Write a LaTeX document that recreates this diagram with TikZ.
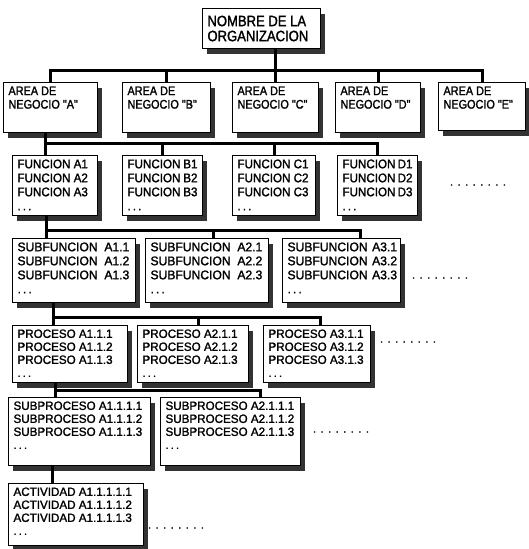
\documentclass[tikz,border=0pt]{standalone}
\usepackage{fontspec}
\setmainfont{Liberation Sans}
\newfontfamily\fnarrow[FakeStretch=0.87,FakeBold=1.6]{Liberation Sans}
\newfontfamily\fmid[FakeStretch=0.93,FakeBold=1.6]{Liberation Sans}
\newfontfamily\fwide[FakeStretch=0.97,FakeBold=1.6]{Liberation Sans}
\usetikzlibrary{shadows}
\newcommand{\boxtext}[3]{\parbox[t][\dimexpr#2pt-8pt\relax][t]{\dimexpr#1pt-10pt\relax}{#3}}
\newcommand{\boxtextc}[3]{\parbox[t][\dimexpr#2pt-8pt\relax][c]{\dimexpr#1pt-10pt\relax}{#3}}
\newcommand{\ddd}{.\,.\,.}
\begin{document}
\begin{tikzpicture}[x=1pt, y=-1pt,
  box/.style={draw, line width=1pt, fill=white, anchor=north west,
    inner xsep=5pt, inner ysep=4pt,
    drop shadow={shadow xshift=4pt, shadow yshift=-5pt, fill=black!80, opacity=1}},
  ftop/.style={font=\fontsize{15}{15}\selectfont\fnarrow},
  farea/.style={font=\fontsize{12.5}{13.5}\selectfont\fnarrow},
  ffun/.style={font=\fontsize{12.5}{14}\selectfont\fmid},
  fsub/.style={font=\fontsize{12.5}{14}\selectfont\fwide},
  fpro/.style={font=\fontsize{12}{13}\selectfont\fwide},
  dotrow/.style={font=\fontsize{12}{14}\selectfont\fwide, inner sep=0pt},
  conn/.style={line width=3pt}]
\useasboundingbox (0,0) rectangle (528,549);

% level 0
\node[box, ftop] (top) at (202,8) {\boxtextc{118}{40}{NOMBRE~DE~LA\\ORGANIZACION}};

% level 1
\node[box, farea] (aa) at (3,82)   {\boxtext{94}{50}{AREA~DE\\NEGOCIO~"A"}};
\node[box, farea] (ab) at (122,82) {\boxtext{88}{50}{AREA~DE\\NEGOCIO~"B"}};
\node[box, farea] (ac) at (232,82) {\boxtext{86}{50}{AREA~DE\\NEGOCIO~"C"}};
\node[box, farea] (ad) at (335,82) {\boxtext{85}{50}{AREA~DE\\NEGOCIO~"D"}};
\node[box, farea] (ae) at (438,82) {\boxtext{87}{48}{AREA~DE\\NEGOCIO~"E"}};

% level 2
\node[box, ffun] (fa) at (12,155)  {\boxtext{85}{60}{FUNCION~A1\\FUNCION~A2\\FUNCION~A3\\\ddd}};
\node[box, ffun] (fb) at (122,155) {\boxtext{80}{60}{FUNCION~B1\\FUNCION~B2\\FUNCION~B3\\\ddd}};
\node[box, ffun] (fc) at (232,155) {\boxtext{83}{60}{FUNCION~C1\\FUNCION~C2\\FUNCION~C3\\\ddd}};
\node[box, ffun] (fd) at (337,155) {\boxtext{80}{60}{FUNCION~D1\\FUNCION~D2\\FUNCION~D3\\\ddd}};
\node[dotrow] (d1) at (478,185) {. . . . . . . .};

% level 3
\node[box, fsub] (sa) at (12,238)  {\boxtext{123}{64}{SUBFUNCION~~A1.1\\SUBFUNCION~~A1.2\\SUBFUNCION~~A1.3\\\ddd}};
\node[box, fsub] (sb) at (145,238) {\boxtext{123}{64}{SUBFUNCION~~A2.1\\SUBFUNCION~~A2.2\\SUBFUNCION~~A2.3\\\ddd}};
\node[box, fsub] (sc) at (282,238) {\boxtext{118}{64}{SUBFUNCION~~A3.1\\SUBFUNCION~~A3.2\\SUBFUNCION~~A3.3\\\ddd}};
\node[dotrow] (d2) at (440,278) {. . . . . . . .};

% level 4
\node[box, fpro] (pa) at (12,325)  {\boxtext{115}{57}{PROCESO~A1.1.1\\PROCESO~A1.1.2\\PROCESO~A1.1.3\\\ddd}};
\node[box, fpro] (pb) at (137,325) {\boxtext{111}{57}{PROCESO~A2.1.1\\PROCESO~A2.1.2\\PROCESO~A2.1.3\\\ddd}};
\node[box, fpro] (pc) at (263,325) {\boxtext{107}{57}{PROCESO~A3.1.1\\PROCESO~A3.1.2\\PROCESO~A3.1.3\\\ddd}};
\node[dotrow] (d3) at (408,342) {. . . . . . . .};

% level 5
\node[box, fpro] (qa) at (8,397)   {\boxtext{142}{68}{SUBPROCESO~A1.1.1.1\\SUBPROCESO~A1.1.1.2\\SUBPROCESO~A1.1.1.3\\\ddd}};
\node[box, fpro] (qb) at (160,397) {\boxtext{140}{68}{SUBPROCESO~A2.1.1.1\\SUBPROCESO~A2.1.1.2\\SUBPROCESO~A2.1.1.3\\\ddd}};
\node[dotrow] (d4) at (341,432) {. . . . . . . .};

% level 6
\node[box, fpro] (ta) at (8,483)   {\boxtext{135}{62}{ACTIVIDAD~A1.1.1.1.1\\ACTIVIDAD~A1.1.1.1.2\\ACTIVIDAD~A1.1.1.1.3\\\ddd}};
\node[dotrow] (d5) at (176,528) {. . . . . . . .};

% connectors level 0 -> 1
\coordinate (b1) at (0,70);
\draw[conn] (top.south -| ac.north) -- (ac.north);
\draw[conn] (aa.north) -- (aa.north |- b1) -- (ae.north |- b1) -- (ae.north);
\draw[conn] (ab.north |- b1) -- (ab.north);
\draw[conn] (ad.north |- b1) -- (ad.north);

% level 1 -> 2
\coordinate (b2) at (0,143);
\coordinate (a2) at ([xshift=-5pt]aa.south);
\draw[conn] (a2) -- (a2 |- fa.north);
\draw[conn] (a2 |- b2) -- (fd.north |- b2) -- (fd.north);
\draw[conn] (fb.north |- b2) -- (fb.north);
\draw[conn] (fc.north |- b2) -- (fc.north);

% level 2 -> 3
\coordinate (b3) at (0,230);
\coordinate (f3) at ([xshift=-9pt]fa.south);
\coordinate (s3b) at ([xshift=6.5pt]sb.north);
\coordinate (s3c) at ([xshift=19pt]sc.north);
\draw[conn] (f3) -- (f3 |- sa.north);
\draw[conn] (f3 |- b3) -- (s3c |- b3) -- (s3c);
\draw[conn] (s3b |- b3) -- (s3b);

% level 3 -> 4
\coordinate (b4) at (0,317);
\coordinate (s4) at ([xshift=-20.5pt]sa.south);
\coordinate (p4b) at ([xshift=5.5pt]pb.north);
\coordinate (p4c) at ([xshift=3.5pt]pc.north);
\draw[conn] (s4) -- (s4 |- pa.north);
\draw[conn] (s4 |- b4) -- (p4c |- b4) -- (p4c);
\draw[conn] (p4b |- b4) -- (p4b);

% level 4 -> 5
\coordinate (b5) at (0,390);
\coordinate (p5) at ([xshift=-14.5pt]pa.south);
\coordinate (q5b) at ([xshift=30pt]qb.north);
\draw[conn] (p5) -- (p5 |- qa.north);
\draw[conn] (p5 |- b5) -- (q5b |- b5) -- (q5b);

% level 5 -> 6
\coordinate (q6) at ([xshift=-27pt]qa.south);
\draw[conn] (q6) -- (q6 |- ta.north);
\end{tikzpicture}
\end{document}
